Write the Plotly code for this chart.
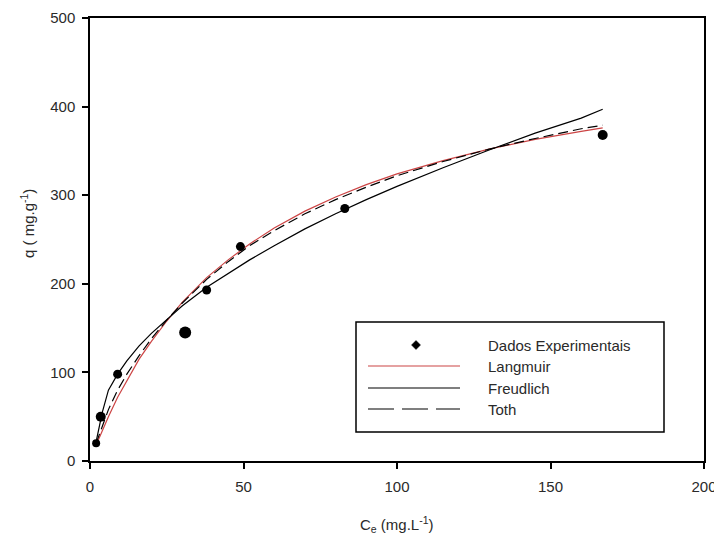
import plotly.graph_objects as go

# Experimental data
ce_exp = [2, 3.5, 9, 31, 38, 49, 83, 167]
q_exp = [20, 50, 98, 145, 193, 242, 285, 368]

# Model curves
ce_fit = [2, 4, 6, 9, 12, 16, 20, 25, 30, 38, 45, 52, 60, 70, 80, 90, 100, 115, 130, 145, 160, 167]
q_langmuir = [18, 35, 50, 72, 91, 115, 135, 158, 179, 207, 227, 245, 263, 282, 298, 312, 324, 339, 352, 363, 372, 376]
q_freundlich = [22, 55, 80, 98, 113, 130, 144, 160, 175, 196, 212, 227, 243, 262, 279, 295, 310, 331, 351, 370, 387, 397]
q_toth = [20, 40, 58, 80, 98, 119, 138, 159, 178, 205, 225, 243, 260, 279, 295, 309, 322, 338, 352, 364, 375, 379]

legend_names = ["Dados Experimentais", "Langmuir", "Freudlich", "Toth"]

x_ticks = [0, 50, 100, 150, 200]
y_ticks = [0, 100, 200, 300, 400, 500]

FONT = "Liberation Sans, Arial, sans-serif"
TXT = "#2a2a2a"
RED = "#cc4444"

# page body has an 8px margin: the figure is sized to fill the window from there
OFF = 8
WIN_W, WIN_H = 722, 543
W, H = WIN_W - OFF, WIN_H - OFF
# plot area in window pixels: x 90..704, y 18..461
PL, PR, PT, PB = 90, 704, 18, 461
L, R, T, B = PL - OFF, WIN_W - PR, PT - OFF, WIN_H - PB
PW, PH = PR - PL, PB - PT


def px(x):
    return (x - PL) / PW


def py(y):
    return (PB - y) / PH


fig = go.Figure()
fig.add_trace(go.Scatter(x=ce_fit, y=q_langmuir, mode="lines", name=legend_names[1],
                         line=dict(color=RED, width=1.2), showlegend=False))
fig.add_trace(go.Scatter(x=ce_fit, y=q_freundlich, mode="lines", name=legend_names[2],
                         line=dict(color="black", width=1.2), showlegend=False))
fig.add_trace(go.Scatter(x=ce_fit, y=q_toth, mode="lines", name=legend_names[3],
                         line=dict(color="black", width=1.2, dash="10px,5px"), showlegend=False))
fig.add_trace(go.Scatter(x=ce_exp, y=q_exp, mode="markers", name=legend_names[0],
                         marker=dict(symbol="circle", size=[8, 10, 9, 12, 9, 9, 9, 10], color="black",
                                     opacity=1, line=dict(width=0)),
                         showlegend=False))

# manual legend (box, sample marks, labels)
shapes = []
annotations = []
shapes.append(dict(type="rect", xref="paper", yref="paper",
                   x0=px(356), x1=px(664), y0=py(432), y1=py(322),
                   line=dict(color="black", width=1.5), fillcolor="white", layer="above"))
rows = [345, 366, 388, 409]
cx, cy, r = 416, rows[0], 4.5
shapes.append(dict(type="path", xref="paper", yref="paper",
                   path=f"M {px(cx)} {py(cy - r)} L {px(cx + r)} {py(cy)} L {px(cx)} {py(cy + r)} L {px(cx - r)} {py(cy)} Z",
                   fillcolor="black", line=dict(color="black", width=0.5), layer="above"))
line_styles = [dict(color=RED, width=1.2), dict(color="black", width=1.2),
               dict(color="black", width=1.2, dash="26px,8px")]
for yy, st in zip(rows[1:], line_styles):
    shapes.append(dict(type="line", xref="paper", yref="paper",
                       x0=px(368), x1=px(460), y0=py(yy), y1=py(yy), line=st, layer="above"))
for yy, name in zip(rows, legend_names):
    annotations.append(dict(text=name, xref="paper", yref="paper", x=px(486), y=py(yy),
                            xanchor="left", yanchor="middle", showarrow=False,
                            font=dict(family=FONT, size=15, color=TXT)))

# axis titles
annotations.append(dict(text="C<sub>e</sub> (mg.L<sup>-1</sup>)", xref="paper", yref="paper",
                        x=px(397), y=py(524), xanchor="center", yanchor="middle", showarrow=False,
                        font=dict(family=FONT, size=15, color=TXT)))
annotations.append(dict(text="q ( mg.g<sup>-1</sup>)", xref="paper", yref="paper",
                        x=px(28), y=py(224), xanchor="center", yanchor="middle", showarrow=False,
                        textangle=-90, font=dict(family=FONT, size=15, color=TXT)))

fig.update_layout(
    width=W, height=H,
    margin=dict(l=L, r=R, t=T, b=B, autoexpand=False),
    paper_bgcolor="white", plot_bgcolor="white",
    font=dict(family=FONT, size=15, color=TXT),
    showlegend=False,
    shapes=shapes, annotations=annotations,
)
fig.update_xaxes(range=[0, 200], tickvals=x_ticks, ticktext=[str(v) for v in x_ticks],
                 showgrid=False, zeroline=False, showline=True, linecolor="black", linewidth=1.5,
                 mirror=True, ticks="outside", ticklen=6, tickcolor="black", tickwidth=1.5,
                 ticklabelstandoff=5, automargin=False, tickfont=dict(size=15, color=TXT))
fig.update_yaxes(range=[0, 500], tickvals=y_ticks, ticktext=[str(v) for v in y_ticks],
                 showgrid=False, zeroline=False, showline=True, linecolor="black", linewidth=1.5,
                 mirror=True, ticks="outside", ticklen=6, tickcolor="black", tickwidth=1.5,
                 ticklabelstandoff=4, automargin=False, tickfont=dict(size=15, color=TXT))

fig.write_html("out.html")
